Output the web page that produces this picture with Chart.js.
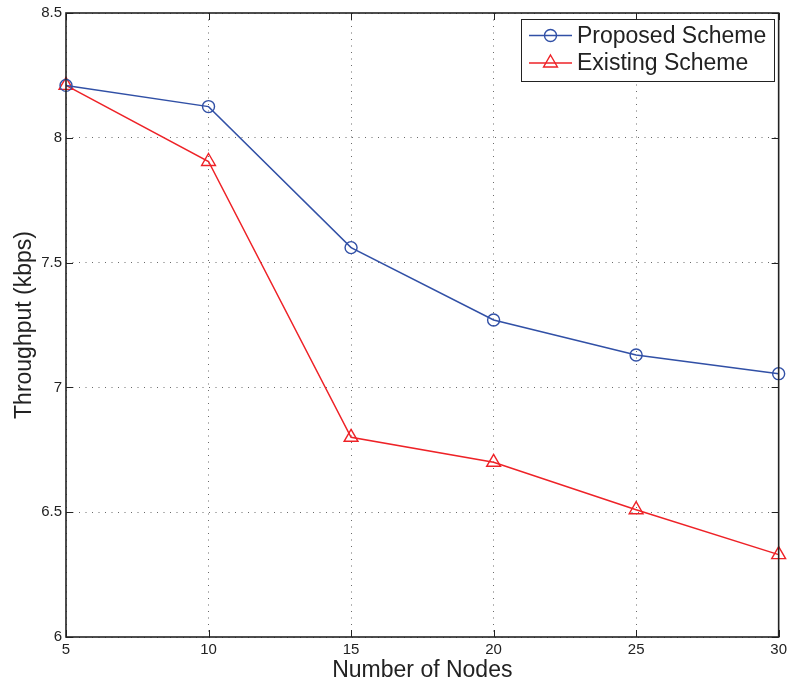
<!DOCTYPE html>
<html>
<head>
<meta charset="utf-8">
<script src="https://cdn.jsdelivr.net/npm/chart.js@4/dist/chart.umd.min.js"></script>
<style>
  html, body { margin: 0; padding: 0; background: #fff; }
  #wrap { width: 791px; height: 684px; position: relative; }
</style>
</head>
<body>
<div id="wrap"><canvas id="c" width="791" height="684"></canvas></div>
<script>
// Throughput versus network size for the two schemes
const nodes = [5, 10, 15, 20, 25, 30];
const proposedScheme = [8.21, 8.125, 7.56, 7.27, 7.13, 7.055];
const existingScheme = [8.21, 7.905, 6.80, 6.70, 6.51, 6.33];
const seriesLabels = ['Proposed Scheme', 'Existing Scheme'];
const xTitle = 'Number of Nodes';
const yTitle = 'Throughput (kbps)';

const BLUE = '#3150a6';
const RED = '#ee2227';
const INK = '#222222';
const FONT = '"Liberation Sans", Arial, Helvetica, sans-serif';

const toPoints = (ys) => nodes.map((x, i) => ({ x: x, y: ys[i] }));

// Boxed axes with short inward tick marks on all four sides
const framePlugin = {
  id: 'frame',
  afterDraw(chart) {
    const { ctx, chartArea: a, scales } = chart;
    const len = 7;
    ctx.save();
    ctx.strokeStyle = INK;
    ctx.lineWidth = 1;
    ctx.beginPath();
    scales.x.ticks.forEach(t => {
      const px = Math.round(scales.x.getPixelForValue(t.value)) + 0.5;
      ctx.moveTo(px, a.bottom); ctx.lineTo(px, a.bottom - len);
      ctx.moveTo(px, a.top); ctx.lineTo(px, a.top + len);
    });
    scales.y.ticks.forEach(t => {
      const py = Math.round(scales.y.getPixelForValue(t.value)) + 0.5;
      ctx.moveTo(a.left, py); ctx.lineTo(a.left + len, py);
      ctx.moveTo(a.right, py); ctx.lineTo(a.right - len, py);
    });
    ctx.stroke();
    ctx.lineWidth = 1.6;
    ctx.strokeRect(a.left, a.top, a.right - a.left, a.bottom - a.top);
    ctx.restore();
  }
};

// Legend box in the upper right corner of the plot
const legendPlugin = {
  id: 'boxLegend',
  afterDraw(chart) {
    const { ctx } = chart;
    const box = { x: 521, y: 19, w: 253, h: 62 };
    ctx.save();
    ctx.fillStyle = '#fff';
    ctx.fillRect(box.x, box.y, box.w, box.h);
    ctx.strokeStyle = INK;
    ctx.lineWidth = 1;
    ctx.strokeRect(box.x + 0.5, box.y + 0.5, box.w, box.h);
    const rows = [35.5, 63];
    chart.data.datasets.forEach((ds, i) => {
      const y = rows[i];
      ctx.strokeStyle = ds.borderColor;
      ctx.lineWidth = ds.borderWidth;
      ctx.beginPath();
      ctx.moveTo(529, y); ctx.lineTo(572, y);
      ctx.stroke();
      ctx.fillStyle = 'rgba(0,0,0,0)';
      ctx.strokeStyle = ds.borderColor;
      ctx.lineWidth = ds.pointBorderWidth;
      Chart.helpers.drawPoint(ctx, {
        pointStyle: ds.pointStyle,
        radius: ds.pointRadius,
        borderWidth: ds.pointBorderWidth,
        rotation: 0
      }, 550.5, y);
      ctx.fillStyle = INK;
      ctx.font = '23px ' + FONT;
      ctx.textBaseline = 'middle';
      ctx.textAlign = 'left';
      ctx.fillText(ds.label, 577, y + 1);
    });
    ctx.restore();
  }
};

const gridStyle = {
  color: '#6a6a6a',
  lineWidth: 1,
  drawTicks: false
};

new Chart(document.getElementById('c'), {
  type: 'line',
  data: {
    datasets: [
      {
        label: seriesLabels[0],
        data: toPoints(proposedScheme),
        borderColor: BLUE,
        backgroundColor: 'rgba(0,0,0,0)',
        borderWidth: 1.5,
        pointStyle: 'circle',
        pointRadius: 6,
        pointBorderWidth: 1.4,
        pointBorderColor: BLUE,
        pointBackgroundColor: 'rgba(0,0,0,0)',
        tension: 0,
        clip: false
      },
      {
        label: seriesLabels[1],
        data: toPoints(existingScheme),
        borderColor: RED,
        backgroundColor: 'rgba(0,0,0,0)',
        borderWidth: 1.5,
        pointStyle: 'triangle',
        pointRadius: 8,
        pointBorderWidth: 1.4,
        pointBorderColor: RED,
        pointBackgroundColor: 'rgba(0,0,0,0)',
        tension: 0,
        clip: false
      }
    ]
  },
  options: {
    responsive: false,
    animation: false,
    devicePixelRatio: 1,
    layout: { padding: { top: 13, right: 10, left: 0, bottom: 0 } },
    plugins: {
      legend: { display: false },
      tooltip: { enabled: false }
    },
    scales: {
      x: {
        type: 'linear',
        min: 5, max: 30,
        ticks: { stepSize: 5, padding: 4, color: INK, font: { family: FONT, size: 15 } },
        grid: Object.assign({}, gridStyle),
        border: { display: false, dash: [1, 5.5] },
        title: { display: true, text: xTitle, color: INK, font: { family: FONT, size: 23 }, padding: { top: 0, bottom: 0 } },
        afterFit(scale) { scale.height = 47; }
      },
      y: {
        type: 'linear',
        min: 6, max: 8.5,
        ticks: {
          stepSize: 0.5, padding: 4, color: INK, font: { family: FONT, size: 15 },
          callback: (v) => String(Math.round(v * 10) / 10)
        },
        grid: Object.assign({}, gridStyle),
        border: { display: false, dash: [1, 5.5] },
        title: { display: true, text: yTitle, color: INK, font: { family: FONT, size: 23 }, padding: { top: 11, bottom: 0 } },
        afterFit(scale) { scale.width = 66; }
      }
    }
  },
  plugins: [framePlugin, legendPlugin]
});
</script>
</body>
</html>
